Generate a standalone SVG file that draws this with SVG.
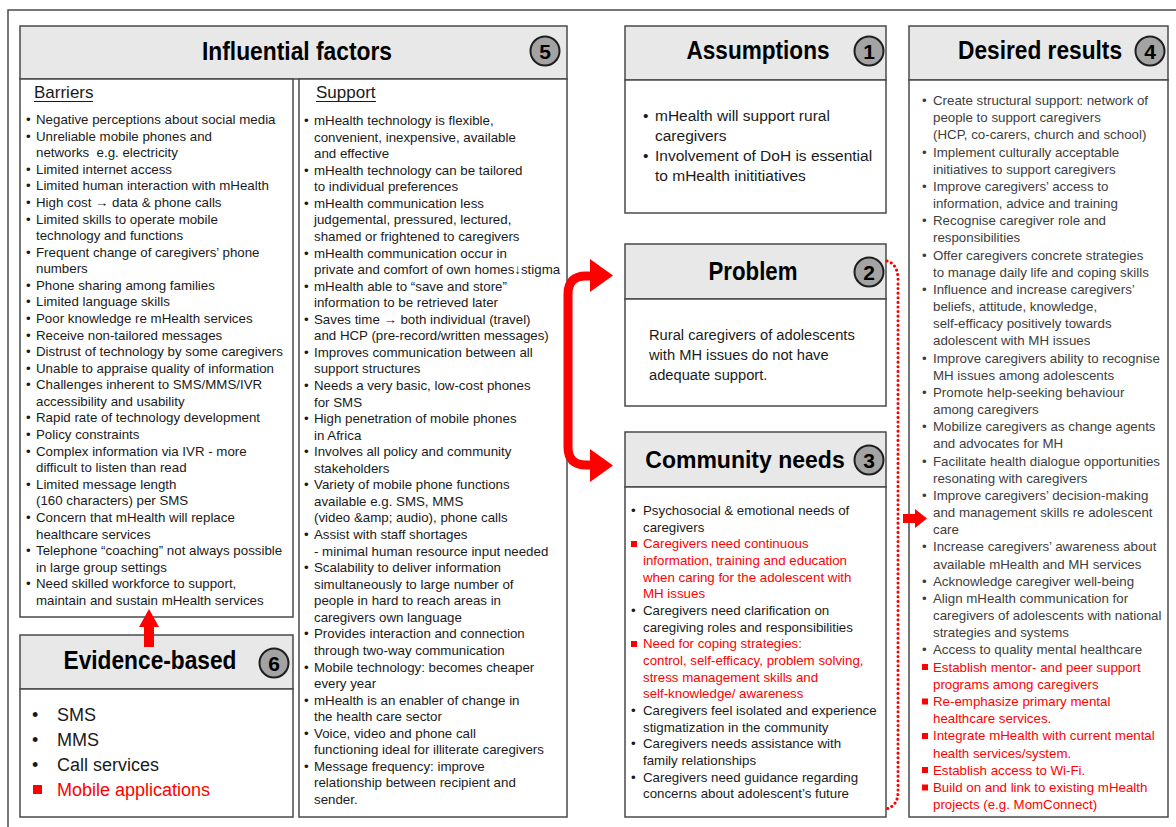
<svg xmlns="http://www.w3.org/2000/svg" width="1176" height="827" viewBox="0 0 1176 827">
<style>
.hdr{fill:#e8e8e8;stroke:#4a4a4a;stroke-width:1.5}
.box{fill:#fff;stroke:#4a4a4a;stroke-width:1.5}
.ttl{font-family:"Liberation Sans",Arial,sans-serif;font-weight:bold;font-size:25px;fill:#000;text-anchor:middle}
.nc{fill:#a3a3a3;stroke:#1e1e1e;stroke-width:2}
.nt{font-family:"Liberation Sans",Arial,sans-serif;font-weight:bold;font-size:21px;fill:#000;text-anchor:middle}
.t{font-family:"Liberation Sans",Arial,sans-serif;font-size:13.3px;fill:#1a1a1a}
.g{font-family:"Liberation Sans",Arial,sans-serif;font-size:13.3px;fill:#3d3d3d}
.red{fill:#ff0000}
.sub{font-family:"Liberation Sans",Arial,sans-serif;font-size:17px;fill:#1a1a1a}
.ul{stroke:#1a1a1a;stroke-width:1}
</style>
<path d="M8 827 V10 H1176" fill="none" stroke="#4a4a4a" stroke-width="1.5"/>

<g id="influential-factors">
<rect class="hdr" x="20" y="26" width="547" height="53"/>
<text class="ttl" x="297" y="60" textLength="190" lengthAdjust="spacingAndGlyphs">Influential factors</text>
<circle class="nc" cx="545" cy="51" r="14.5"/><text class="nt" x="545" y="58.5">5</text>
</g>

<g id="barriers">
<rect class="box" x="20" y="79" width="273" height="538"/>
<text class="sub" x="34" y="98">Barriers</text>
<line class="ul" x1="34" y1="101.5" x2="93" y2="101.5"/>
<text class="t">
<tspan x="26" y="124">•</tspan><tspan x="36">Negative perceptions about social media</tspan>
<tspan x="26" y="140.6">•</tspan><tspan x="36">Unreliable mobile phones and</tspan>
<tspan x="36" y="157.2">networks &#160;e.g. electricity</tspan>
<tspan x="26" y="173.7">•</tspan><tspan x="36">Limited internet access</tspan>
<tspan x="26" y="190.3">•</tspan><tspan x="36">Limited human interaction with mHealth</tspan>
<tspan x="26" y="206.9">•</tspan><tspan x="36">High cost → data &amp; phone calls</tspan>
<tspan x="26" y="223.5">•</tspan><tspan x="36">Limited skills to operate mobile</tspan>
<tspan x="36" y="240.1">technology and functions</tspan>
<tspan x="26" y="256.6">•</tspan><tspan x="36">Frequent change of caregivers’ phone</tspan>
<tspan x="36" y="273.2">numbers</tspan>
<tspan x="26" y="289.8">•</tspan><tspan x="36">Phone sharing among families</tspan>
<tspan x="26" y="306.4">•</tspan><tspan x="36">Limited language skills</tspan>
<tspan x="26" y="323">•</tspan><tspan x="36">Poor knowledge re mHealth services</tspan>
<tspan x="26" y="339.5">•</tspan><tspan x="36">Receive non-tailored messages</tspan>
<tspan x="26" y="356.1">•</tspan><tspan x="36">Distrust of technology by some caregivers</tspan>
<tspan x="26" y="372.7">•</tspan><tspan x="36">Unable to appraise quality of information</tspan>
<tspan x="26" y="389.3">•</tspan><tspan x="36">Challenges inherent to SMS/MMS/IVR</tspan>
<tspan x="36" y="405.9">accessibility and usability</tspan>
<tspan x="26" y="422.4">•</tspan><tspan x="36">Rapid rate of technology development</tspan>
<tspan x="26" y="439">•</tspan><tspan x="36">Policy constraints</tspan>
<tspan x="26" y="455.6">•</tspan><tspan x="36">Complex information via IVR - more</tspan>
<tspan x="36" y="472.2">difficult to listen than read</tspan>
<tspan x="26" y="488.8">•</tspan><tspan x="36">Limited message length</tspan>
<tspan x="36" y="505.3">(160 characters) per SMS</tspan>
<tspan x="26" y="521.9">•</tspan><tspan x="36">Concern that mHealth will replace</tspan>
<tspan x="36" y="538.5">healthcare services</tspan>
<tspan x="26" y="555.1">•</tspan><tspan x="36">Telephone “coaching” not always possible</tspan>
<tspan x="36" y="571.7">in large group settings</tspan>
<tspan x="26" y="588.2">•</tspan><tspan x="36">Need skilled workforce to support,</tspan>
<tspan x="36" y="604.8">maintain and sustain mHealth services</tspan>
</text>
</g>

<g id="support">
<rect class="box" x="299" y="79" width="268" height="738"/>
<text class="sub" x="316" y="98">Support</text>
<line class="ul" x1="316" y1="101.5" x2="376" y2="101.5"/>
<text class="t">
<tspan x="304" y="125">•</tspan><tspan x="314">mHealth technology is flexible,</tspan>
<tspan x="314" y="141.6">convenient, inexpensive, available</tspan>
<tspan x="314" y="158.1">and effective</tspan>
<tspan x="304" y="174.7">•</tspan><tspan x="314">mHealth technology can be tailored</tspan>
<tspan x="314" y="191.2">to individual preferences</tspan>
<tspan x="304" y="207.8">•</tspan><tspan x="314">mHealth communication less</tspan>
<tspan x="314" y="224.4">judgemental, pressured, lectured,</tspan>
<tspan x="314" y="240.9">shamed or frightened to caregivers</tspan>
<tspan x="304" y="257.5">•</tspan><tspan x="314">mHealth communication occur in</tspan>
<tspan x="314" y="274">private and comfort of own homes↓stigma</tspan>
<tspan x="304" y="290.6">•</tspan><tspan x="314">mHealth able to “save and store”</tspan>
<tspan x="314" y="307.2">information to be retrieved later</tspan>
<tspan x="304" y="323.7">•</tspan><tspan x="314">Saves time → both individual (travel)</tspan>
<tspan x="314" y="340.3">and HCP (pre-record/written messages)</tspan>
<tspan x="304" y="356.8">•</tspan><tspan x="314">Improves communication between all</tspan>
<tspan x="314" y="373.4">support structures</tspan>
<tspan x="304" y="390">•</tspan><tspan x="314">Needs a very basic, low-cost phones</tspan>
<tspan x="314" y="406.5">for SMS</tspan>
<tspan x="304" y="423.1">•</tspan><tspan x="314">High penetration of mobile phones</tspan>
<tspan x="314" y="439.6">in Africa</tspan>
<tspan x="304" y="456.2">•</tspan><tspan x="314">Involves all policy and community</tspan>
<tspan x="314" y="472.8">stakeholders</tspan>
<tspan x="304" y="489.3">•</tspan><tspan x="314">Variety of mobile phone functions</tspan>
<tspan x="314" y="505.9">available e.g. SMS, MMS</tspan>
<tspan x="314" y="522.4">(video &amp;amp; audio), phone calls</tspan>
<tspan x="304" y="539">•</tspan><tspan x="314">Assist with staff shortages</tspan>
<tspan x="314" y="555.6">- minimal human resource input needed</tspan>
<tspan x="304" y="572.1">•</tspan><tspan x="314">Scalability to deliver information</tspan>
<tspan x="314" y="588.7">simultaneously to large number of</tspan>
<tspan x="314" y="605.2">people in hard to reach areas in</tspan>
<tspan x="314" y="621.8">caregivers own language</tspan>
<tspan x="304" y="638.4">•</tspan><tspan x="314">Provides interaction and connection</tspan>
<tspan x="314" y="654.9">through two-way communication</tspan>
<tspan x="304" y="671.5">•</tspan><tspan x="314">Mobile technology: becomes cheaper</tspan>
<tspan x="314" y="688">every year</tspan>
<tspan x="304" y="704.6">•</tspan><tspan x="314">mHealth is an enabler of change in</tspan>
<tspan x="314" y="721.2">the health care sector</tspan>
<tspan x="304" y="737.7">•</tspan><tspan x="314">Voice, video and phone call</tspan>
<tspan x="314" y="754.3">functioning ideal for illiterate caregivers</tspan>
<tspan x="304" y="770.8">•</tspan><tspan x="314">Message frequency: improve</tspan>
<tspan x="314" y="787.4">relationship between recipient and</tspan>
<tspan x="314" y="804">sender.</tspan>
</text>
</g>

<g id="evidence-based">
<rect class="hdr" x="20" y="635" width="273" height="54"/>
<rect class="box" x="20" y="689" width="273" height="128"/>
<text class="ttl" x="150" y="669" textLength="173" lengthAdjust="spacingAndGlyphs">Evidence-based</text>
<circle class="nc" cx="274" cy="663" r="14.5"/><text class="nt" x="274" y="670.5">6</text>
<text class="t" style="font-size:18px">
<tspan x="32" y="721">•</tspan><tspan x="57">SMS</tspan>
<tspan x="32" y="746">•</tspan><tspan x="57">MMS</tspan>
<tspan x="32" y="771">•</tspan><tspan x="57">Call services</tspan>
<tspan x="57" y="796" class="red">Mobile applications</tspan>
</text>
<rect class="red" x="33" y="785" width="9" height="9"/>
</g>

<g id="assumptions">
<rect class="hdr" x="625" y="26" width="261" height="54"/>
<rect class="box" x="625" y="80" width="261" height="133"/>
<text class="ttl" x="758" y="59" textLength="143" lengthAdjust="spacingAndGlyphs">Assumptions</text>
<circle class="nc" cx="869" cy="51" r="14.5"/><text class="nt" x="869" y="58.5">1</text>
<text class="t" style="font-size:15.5px">
<tspan x="643" y="121">•</tspan><tspan x="655">mHealth will support rural</tspan>
<tspan x="655" y="141">caregivers</tspan>
<tspan x="643" y="161">•</tspan><tspan x="655">Involvement of DoH is essential</tspan>
<tspan x="655" y="181">to mHealth inititiatives</tspan>
</text>
</g>

<g id="problem">
<rect class="hdr" x="625" y="244" width="261" height="55"/>
<rect class="box" x="625" y="299" width="261" height="107"/>
<text class="ttl" x="753" y="280" textLength="89" lengthAdjust="spacingAndGlyphs">Problem</text>
<circle class="nc" cx="869" cy="272" r="14.5"/><text class="nt" x="869" y="279.5">2</text>
<text class="t" style="font-size:14.7px">
<tspan x="649" y="340">Rural caregivers of adolescents</tspan>
<tspan x="649" y="360">with MH issues do not have</tspan>
<tspan x="649" y="380">adequate support.</tspan>
</text>
</g>

<g id="community-needs">
<rect class="hdr" x="625" y="432" width="261" height="55"/>
<rect class="box" x="625" y="487" width="261" height="330"/>
<text class="ttl" x="745" y="468" style="font-size:23px">Community needs</text>
<circle class="nc" cx="869" cy="460" r="14.5"/><text class="nt" x="869" y="467.5">3</text>
<text class="t">
<tspan x="631" y="515">•</tspan><tspan x="643">Psychosocial &amp; emotional needs of</tspan>
<tspan x="643" y="531.7">caregivers</tspan>
<tspan x="643" y="548.3" class="red">Caregivers need continuous</tspan>
<tspan x="643" y="565" class="red">information, training and education</tspan>
<tspan x="643" y="581.7" class="red">when caring for the adolescent with</tspan>
<tspan x="643" y="598.3" class="red">MH issues</tspan>
<tspan x="631" y="615">•</tspan><tspan x="643">Caregivers need clarification on</tspan>
<tspan x="643" y="631.7">caregiving roles and responsibilities</tspan>
<tspan x="643" y="648.3" class="red">Need for coping strategies:</tspan>
<tspan x="643" y="665" class="red">control, self-efficacy, problem solving,</tspan>
<tspan x="643" y="681.7" class="red">stress management skills and</tspan>
<tspan x="643" y="698.3" class="red">self-knowledge/ awareness</tspan>
<tspan x="631" y="715">•</tspan><tspan x="643">Caregivers feel isolated and experience</tspan>
<tspan x="643" y="731.7">stigmatization in the community</tspan>
<tspan x="631" y="748.3">•</tspan><tspan x="643">Caregivers needs assistance with</tspan>
<tspan x="643" y="765">family relationships</tspan>
<tspan x="631" y="781.7">•</tspan><tspan x="643">Caregivers need guidance regarding</tspan>
<tspan x="643" y="798.3">concerns about adolescent’s future</tspan>
</text>
<rect class="red" x="631" y="541" width="6" height="6"/>
<rect class="red" x="631" y="641" width="6" height="6"/>
</g>

<g id="desired-results">
<rect class="hdr" x="909" y="26" width="259" height="54"/>
<rect class="box" x="909" y="80" width="259" height="737"/>
<text class="ttl" x="1040" y="59" textLength="164" lengthAdjust="spacingAndGlyphs">Desired results</text>
<circle class="nc" cx="1150" cy="51" r="14.5"/><text class="nt" x="1150" y="58.5">4</text>
<text class="g">
<tspan x="922" y="105">•</tspan><tspan x="933">Create structural support: network of</tspan>
<tspan x="933" y="122.2">people to support caregivers</tspan>
<tspan x="933" y="139.3">(HCP, co-carers, church and school)</tspan>
<tspan x="922" y="156.5">•</tspan><tspan x="933">Implement culturally acceptable</tspan>
<tspan x="933" y="173.7">initiatives to support caregivers</tspan>
<tspan x="922" y="190.9">•</tspan><tspan x="933">Improve caregivers’ access to</tspan>
<tspan x="933" y="208">information, advice and training</tspan>
<tspan x="922" y="225.2">•</tspan><tspan x="933">Recognise caregiver role and</tspan>
<tspan x="933" y="242.4">responsibilities</tspan>
<tspan x="922" y="259.5">•</tspan><tspan x="933">Offer caregivers concrete strategies</tspan>
<tspan x="933" y="276.7">to manage daily life and coping skills</tspan>
<tspan x="922" y="293.9">•</tspan><tspan x="933">Influence and increase caregivers’</tspan>
<tspan x="933" y="311">beliefs, attitude, knowledge,</tspan>
<tspan x="933" y="328.2">self-efficacy positively towards</tspan>
<tspan x="933" y="345.4">adolescent with MH issues</tspan>
<tspan x="922" y="362.6">•</tspan><tspan x="933">Improve caregivers ability to recognise</tspan>
<tspan x="933" y="379.7">MH issues among adolescents</tspan>
<tspan x="922" y="396.9">•</tspan><tspan x="933">Promote help-seeking behaviour</tspan>
<tspan x="933" y="414.1">among caregivers</tspan>
<tspan x="922" y="431.2">•</tspan><tspan x="933">Mobilize caregivers as change agents</tspan>
<tspan x="933" y="448.4">and advocates for MH</tspan>
<tspan x="922" y="465.6">•</tspan><tspan x="933">Facilitate health dialogue opportunities</tspan>
<tspan x="933" y="482.7">resonating with caregivers</tspan>
<tspan x="922" y="499.9">•</tspan><tspan x="933">Improve caregivers’ decision-making</tspan>
<tspan x="933" y="517.1">and management skills re adolescent</tspan>
<tspan x="933" y="534.3">care</tspan>
<tspan x="922" y="551.4">•</tspan><tspan x="933">Increase caregivers’ awareness about</tspan>
<tspan x="933" y="568.6">available mHealth and MH services</tspan>
<tspan x="922" y="585.8">•</tspan><tspan x="933">Acknowledge caregiver well-being</tspan>
<tspan x="922" y="602.9">•</tspan><tspan x="933">Align mHealth communication for</tspan>
<tspan x="933" y="620.1">caregivers of adolescents with national</tspan>
<tspan x="933" y="637.3">strategies and systems</tspan>
<tspan x="922" y="654.4">•</tspan><tspan x="933">Access to quality mental healthcare</tspan>
<tspan x="933" y="671.6" class="red">Establish mentor- and peer support</tspan>
<tspan x="933" y="688.8" class="red">programs among caregivers</tspan>
<tspan x="933" y="706" class="red">Re-emphasize primary mental</tspan>
<tspan x="933" y="723.1" class="red">healthcare services.</tspan>
<tspan x="933" y="740.3" class="red">Integrate mHealth with current mental</tspan>
<tspan x="933" y="757.5" class="red">health services/system.</tspan>
<tspan x="933" y="774.6" class="red">Establish access to Wi-Fi.</tspan>
<tspan x="933" y="791.8" class="red">Build on and link to existing mHealth</tspan>
<tspan x="933" y="809" class="red">projects (e.g. MomConnect)</tspan>
</text>
<rect class="red" x="922" y="664" width="6" height="6"/>
<rect class="red" x="922" y="698.5" width="6" height="6"/>
<rect class="red" x="922" y="733" width="6" height="6"/>
<rect class="red" x="922" y="767" width="6" height="6"/>
<rect class="red" x="922" y="784.5" width="6" height="6"/>
</g>

<g id="connectors">
<path d="M592 276 H586 Q568 276 568 294 V447 Q568 465 586 465 H592" fill="none" stroke="#ff0000" stroke-width="9"/>
<polygon class="red" points="590,259 613,275.5 590,292"/>
<polygon class="red" points="590,449 613,465.5 590,482"/>
<polygon class="red" points="144,647 154,647 154,627 159,627 149,609 139,627 144,627"/>
<polygon class="red" points="903,514 915,514 915,509 927,518.5 915,528 915,523 903,523"/>
<path d="M887 261 Q898 264 898 280 V792 Q898 806 886 809" fill="none" stroke="#ff0000" stroke-width="3" stroke-linecap="round" stroke-dasharray="0.1 4.5"/>
</g>
</svg>
